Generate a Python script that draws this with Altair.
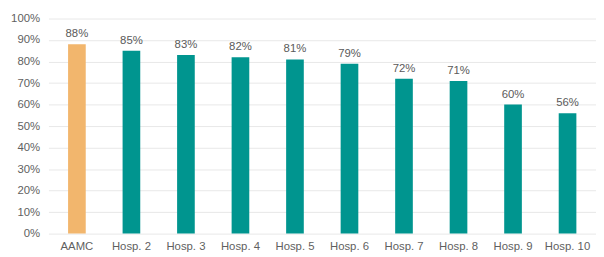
import altair as alt
import pandas as pd

categories = ["AAMC", "Hosp. 2", "Hosp. 3", "Hosp. 4", "Hosp. 5",
              "Hosp. 6", "Hosp. 7", "Hosp. 8", "Hosp. 9", "Hosp. 10"]
values = [88, 85, 83, 82, 81, 79, 72, 71, 60, 56]
groups = ["AAMC"] + ["Hosp"] * 9
tick_values = [0, 10, 20, 30, 40, 50, 60, 70, 80, 90, 100]

df = pd.DataFrame({"cat": categories, "val": values, "grp": groups,
                   "label": [f"{v}%" for v in values]})

x = alt.X("cat:N", sort=categories, title=None,
          scale=alt.Scale(paddingInner=0.676, paddingOuter=0.36),
          axis=alt.Axis(labelAngle=0, ticks=False, domain=False, labelPadding=7,
                        labelFont="Liberation Sans", labelFontSize=11.5, labelColor="#5f5f5f"))
y = alt.Y("val:Q", title=None,
          scale=alt.Scale(domain=[0, 100], nice=False),
          axis=alt.Axis(values=tick_values, labelExpr="datum.value + '%'", labelOverlap=False,
                        ticks=False, domain=False,
                        labelPadding=9, labelFont="Liberation Sans", labelFontSize=11.5,
                        labelColor="#5f5f5f", gridColor="#e8e8e8"))

bars = alt.Chart(df).mark_bar().encode(
    x=x, y=y,
    color=alt.Color("grp:N", scale=alt.Scale(domain=["AAMC", "Hosp"], range=["#F2B66D", "#00958F"]),
                    legend=None),
)
text = alt.Chart(df).mark_text(dy=-10, font="Liberation Sans", fontSize=11.5, color="#5a5a5a").encode(
    x=x, y=y, text="label:N")

chart = (bars + text).properties(
    width=555, height=218,
    autosize=alt.AutoSizeParams(type="none"),
    padding={"left": 41, "top": 9, "right": 0, "bottom": 20},
).configure_view(stroke=None)

chart.save("out.html", embed_options={"renderer": "svg", "actions": False})
